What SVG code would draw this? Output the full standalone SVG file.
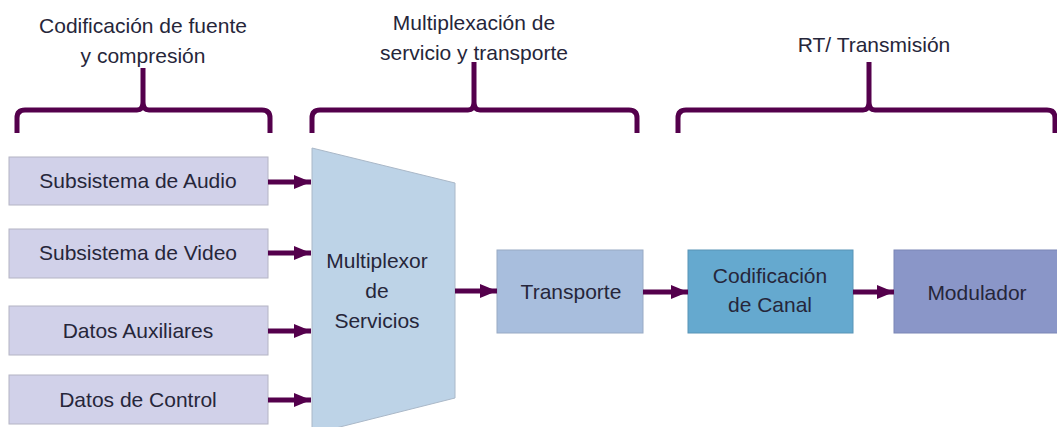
<svg xmlns="http://www.w3.org/2000/svg" width="1057" height="427" viewBox="0 0 1057 427">
<style>
text{font-family:"Liberation Sans",Arial,sans-serif;font-size:21px;fill:#26263a;text-anchor:middle}
.in{fill:#d1d1e9;stroke:#b4b4c4;stroke-width:1}
.brace{fill:none;stroke:#54004c;stroke-width:5;stroke-linejoin:round}
.conn{stroke:#54004c;stroke-width:5;marker-end:url(#ah)}
</style>
<defs>
<marker id="ah" markerUnits="userSpaceOnUse" markerWidth="18" markerHeight="16" refX="17" refY="8" orient="auto">
<path d="M0,1 L17,8 L0,15 Z" fill="#54004c"/>
</marker>
</defs>
<rect width="1057" height="427" fill="#ffffff"/>
<g id="headers">
<text x="143" y="33">Codificación de fuente</text>
<text x="143" y="63">y compresión</text>
<text x="474" y="30">Multiplexación de</text>
<text x="474" y="60">servicio y transporte</text>
<text x="874" y="52">RT/ Transmisión</text>
</g>
<g id="braces">
<path class="brace" d="M17,133 V118 Q17,110 25,110 H137 Q143,110 143,102 V68 M143,102 Q143,110 149,110 H262 Q270,110 270,118 V133"/>
<path class="brace" d="M312,133 V118 Q312,110 320,110 H468 Q474,110 474,102 V62 M474,102 Q474,110 480,110 H629 Q637,110 637,118 V133"/>
<path class="brace" d="M678,133 V118 Q678,110 686,110 H863 Q869,110 869,102 V62 M869,102 Q869,110 875,110 H1047 Q1055,110 1055,118 V133"/>
</g>
<g id="audio"><rect class="in" x="9" y="157" width="259" height="48"/><text x="138" y="188">Subsistema de Audio</text></g>
<g id="video"><rect class="in" x="9" y="229" width="259" height="49"/><text x="138" y="260">Subsistema de Video</text></g>
<g id="aux"><rect class="in" x="9" y="306" width="259" height="49"/><text x="138" y="338">Datos Auxiliares</text></g>
<g id="control"><rect class="in" x="9" y="375" width="259" height="49"/><text x="138" y="407">Datos de Control</text></g>
<g id="mux">
<path d="M312,148 L455,183 L455,398 L312,434 Z" fill="#bdd3e7" stroke="#aab8c8" stroke-width="1"/>
<text x="377" y="268">Multiplexor</text>
<text x="377" y="298">de</text>
<text x="377" y="328">Servicios</text>
</g>
<g id="transporte"><rect x="497" y="250" width="146" height="83" fill="#a8bedd" stroke="#98aac4" stroke-width="1"/><text x="571" y="299">Transporte</text></g>
<g id="codcanal"><rect x="688" y="250" width="165" height="83" fill="#65a9cf" stroke="#5894b6" stroke-width="1"/><text x="770" y="283">Codificación</text><text x="770" y="312">de Canal</text></g>
<g id="modulador"><rect x="894" y="250" width="170" height="83" fill="#8a96c8" stroke="#7a86b6" stroke-width="1"/><text x="977" y="300">Modulador</text></g>
<g id="connectors">
<line class="conn" x1="268" y1="182" x2="311" y2="182"/>
<line class="conn" x1="268" y1="253" x2="311" y2="253"/>
<line class="conn" x1="268" y1="331" x2="311" y2="331"/>
<line class="conn" x1="268" y1="400" x2="311" y2="400"/>
<line class="conn" x1="455" y1="291" x2="497" y2="291"/>
<line class="conn" x1="643" y1="292" x2="688" y2="292"/>
<line class="conn" x1="853" y1="292" x2="894" y2="292"/>
</g>
</svg>
